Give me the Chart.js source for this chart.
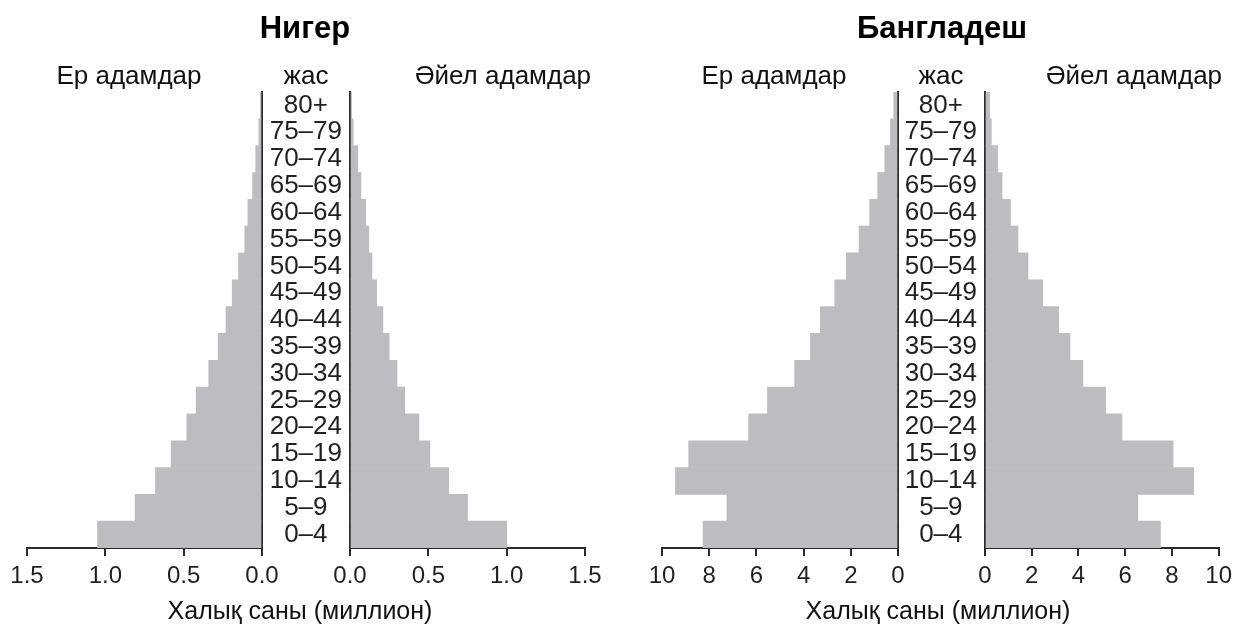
<!DOCTYPE html>
<html><head><meta charset="utf-8">
<script src="https://cdn.jsdelivr.net/npm/chart.js@4"></script>
<style>
html,body{margin:0;padding:0;background:#fff;}
#wrap{position:relative;width:1238px;height:625px;overflow:hidden;font-family:'Liberation Sans',Arial,sans-serif;color:#111}
canvas{position:absolute;left:0;top:0}
.t{position:absolute;transform:translate(-50%,-50%);white-space:nowrap;line-height:1;font-size:26px}
.h{font-weight:bold;font-size:31px;color:#000}
.a{font-size:25px}
</style></head><body>
<div id="wrap">
<canvas id="nm" width="1238" height="625"></canvas>
<canvas id="nf" width="1238" height="625"></canvas>
<canvas id="bm" width="1238" height="625"></canvas>
<canvas id="bf" width="1238" height="625"></canvas>
<div class="t h" style="left:305px;top:27px">Нигер</div>
<div class="t h" style="left:942px;top:27px">Бангладеш</div>
<div class="t" style="left:129px;top:75px">Ер адамдар</div>
<div class="t" style="left:306px;top:75px">жас</div>
<div class="t" style="left:503px;top:75px">Әйел адамдар</div>
<div class="t" style="left:774px;top:75px">Ер адамдар</div>
<div class="t" style="left:941px;top:75px">жас</div>
<div class="t" style="left:1134px;top:75px">Әйел адамдар</div>
<div class="t a" style="left:300px;top:610px">Халық саны (миллион)</div>
<div class="t a" style="left:938px;top:610px">Халық саны (миллион)</div>
</div>
<script>
const ages = ['0–4','5–9','10–14','15–19','20–24','25–29','30–34','35–39','40–44','45–49','50–54','55–59','60–64','65–69','70–74','75–79','80+'];
const nigerMale   = [1.05,0.81,0.68,0.58,0.48,0.42,0.34,0.28,0.23,0.19,0.15,0.11,0.09,0.06,0.04,0.02,0.01];
const nigerFemale = [1.00,0.75,0.63,0.51,0.44,0.35,0.30,0.25,0.21,0.17,0.14,0.12,0.10,0.07,0.05,0.02,0.01];
const bangMale    = [8.26,7.25,9.43,8.87,6.33,5.53,4.38,3.71,3.29,2.68,2.19,1.65,1.20,0.86,0.56,0.32,0.18];
const bangFemale  = [7.51,6.54,8.93,8.05,5.86,5.16,4.19,3.64,3.15,2.47,1.84,1.41,1.09,0.73,0.54,0.27,0.20];
const nigerTicks = [0, 0.5, 1.0, 1.5];
const bangTicks  = [0, 2, 4, 6, 8, 10];

const FAMILY = "'Liberation Sans', Arial, sans-serif";
const BAR = '#bcbdc0';
const AXIS = '#2b2b2b';
const TXT = '#231f20';

function makeChart(id, values, tickVals, decimals, isMale, pad, yWidth) {
  const xmax = tickVals[tickVals.length - 1];
  new Chart(document.getElementById(id), {
    type: 'bar',
    data: { labels: ages, datasets: [{ data: values, backgroundColor: BAR, borderWidth: 0, barPercentage: 1, categoryPercentage: 1 }] },
    options: {
      indexAxis: 'y',
      responsive: false,
      animation: false,
      layout: { padding: pad },
      plugins: { legend: { display: false }, tooltip: { enabled: false } },
      scales: {
        x: {
          type: 'linear', reverse: isMale, min: 0, max: xmax,
          afterBuildTicks: s => { s.ticks = tickVals.map(v => ({ value: v })); },
          ticks: { callback: v => Number(v).toFixed(decimals), font: { size: 24, family: FAMILY }, color: TXT, padding: 6, maxRotation: 0, autoSkip: false },
          grid: { drawOnChartArea: false, drawTicks: true, tickLength: 8, color: AXIS, lineWidth: 2 },
          border: { display: true, color: AXIS, width: 2 },
          afterFit: s => { s.height = 40; },
          z: 1
        },
        y: {
          type: 'category', reverse: true, position: isMale ? 'right' : 'left',
          ticks: isMale ? { display: false } : { display: true, crossAlign: 'center', padding: 8, font: { size: 26, family: FAMILY }, color: TXT, autoSkip: false },
          grid: { display: false, drawTicks: false },
          border: { display: true, color: AXIS, width: 2 },
          afterFit: s => { s.width = yWidth; },
          z: 1
        }
      }
    }
  });
}

makeChart('nm', nigerMale, nigerTicks, 1, true, { left: 27, right: 976, top: 92, bottom: 37 }, 0);
makeChart('nf', nigerFemale, nigerTicks, 1, false, { left: 262, right: 653, top: 92, bottom: 37 }, 88);
makeChart('bm', bangMale, bangTicks, 0, true, { left: 662, right: 340, top: 92, bottom: 37 }, 0);
makeChart('bf', bangFemale, bangTicks, 0, false, { left: 898, right: 17, top: 92, bottom: 37 }, 87);
</script>
</body></html>
